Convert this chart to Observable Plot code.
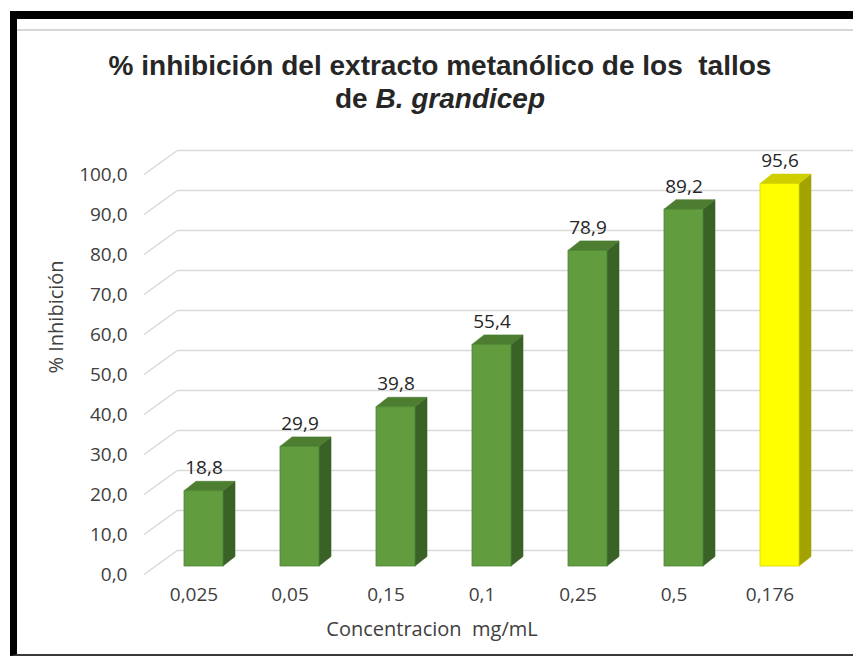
<!DOCTYPE html>
<html>
<head>
<meta charset="utf-8">
<script src="https://cdn.jsdelivr.net/npm/d3@7"></script>
<script src="https://cdn.jsdelivr.net/npm/@observablehq/plot@0.6"></script>
<style>
  html, body { margin: 0; padding: 0; background: #fff; overflow: hidden; }
  #page { position: relative; width: 853px; height: 658px; overflow: hidden; }
  #frame { position: absolute; left: 10px; top: 11px; width: 900px; height: 635px;
           border-top: 8px solid #000; border-left: 7px solid #000; border-bottom: 2px solid #3a3a3a; }
  #topline { position: absolute; left: 17px; top: 29px; width: 900px; height: 2px; background: #d6d6d6; }
  #title { position: absolute; left: 0; top: 49px; width: 880px; text-align: center;
           font-family: "Liberation Sans", Arial, sans-serif; font-weight: bold; font-size: 28px;
           line-height: 33px; color: #262626; white-space: pre; }
  #chart { position: absolute; left: 0; top: 120px; }
  svg text { white-space: pre; }
</style>
</head>
<body>
<div id="page">
  <div id="frame"></div>
  <div id="topline"></div>
  <div id="title">% inhibición del extracto metanólico de los  tallos<br>de <i>B. grandicep</i></div>
  <div id="chart"></div>
</div>
<script>
// ---- data ----
const categories = ["0,025", "0,05", "0,15", "0,1", "0,25", "0,5", "0,176"];
const values = [18.8, 29.9, 39.8, 55.4, 78.9, 89.2, 95.6];
const groups = ["muestra", "muestra", "muestra", "muestra", "muestra", "muestra", "referencia"];
const yTicks = [0, 10, 20, 30, 40, 50, 60, 70, 80, 90, 100];
const yTitle = "% Inhibición";
const xTitle = "Concentracion  mg/mL";

// ---- styles ----
const frontColors = {muestra: "#619c3f", referencia: "#ffff00"};
const sideColors = {muestra: "#3a6126", referencia: "#a3a300"};
const topColors = {muestra: "#4c7d31", referencia: "#cfcf00"};
const edgeColors = {muestra: "#4f8632", referencia: "#d6d600"};
const DX = 12, DY = -9.5;          // bar depth offset
const GX0 = 144, GX1 = 178;        // front / back of the gridline wall
const GFRONT = 8.5, GBACK = -16;   // vertical offsets of front and back gridlines
const fmt = v => v.toFixed(1).replace(".", ",");

const data = categories.map((c, i) => ({cat: c, value: values[i], group: groups[i]}));

const W = 853, H = 538;

function slants(index, scales) {
  const y = scales.y;
  const g = d3.create("svg:g").attr("stroke", "#d9d9d9").attr("stroke-width", 1.5).attr("fill", "none");
  for (const t of yTicks) {
    g.append("line")
      .attr("x1", GX0).attr("y1", y(t) + GFRONT)
      .attr("x2", GX1).attr("y2", y(t) + GBACK);
  }
  return g.node();
}

function faces(index, scales) {
  const x = scales.x, y = scales.y;
  const bw = x.bandwidth ? x.bandwidth() : 39;
  const g = d3.create("svg:g");
  for (const d of data) {
    const x0 = x(d.cat), x1 = x0 + bw, yt = y(d.value), yb = y(0);
    g.append("path")
      .attr("d", `M${x1},${yt}L${x1 + DX},${yt + DY}L${x1 + DX},${yb + DY}L${x1},${yb}Z`)
      .attr("fill", sideColors[d.group]).attr("stroke", sideColors[d.group]).attr("stroke-width", 0.6);
    g.append("path")
      .attr("d", `M${x0},${yt}L${x0 + DX},${yt + DY}L${x1 + DX},${yt + DY}L${x1},${yt}Z`)
      .attr("fill", topColors[d.group]).attr("stroke", topColors[d.group]).attr("stroke-width", 0.6);
  }
  return g.node();
}

const chart = Plot.plot({
  width: W,
  height: H,
  marginTop: 0, marginBottom: 0, marginLeft: 0, marginRight: 0,
  style: {fontFamily: "'Open Sans', sans-serif", fontSize: "19px", color: "#404040", background: "transparent", overflow: "visible"},
  x: {type: "band", domain: categories, range: [155.5, 827.5], paddingInner: 0.594, paddingOuter: 0.297, axis: null},
  y: {domain: [0, 100], range: [446, 46], axis: null},
  color: {domain: Object.keys(frontColors), range: Object.values(frontColors)},
  marks: [
    Plot.ruleY(yTicks, {y: d => d, dy: GBACK, insetLeft: GX1, stroke: "#d9d9d9", strokeWidth: 1.5}),
    slants,
    faces,
    Plot.barY(data, {x: "cat", y: "value", fill: "group", stroke: d => edgeColors[d.group], strokeWidth: 0.8}),
    Plot.text(data, {x: "cat", y: "value", text: d => fmt(d.value), dy: -23, fill: "#262626", fontSize: 19}),
    Plot.text(yTicks, {y: d => d, text: d => fmt(d), frameAnchor: "left", dx: 127, dy: GFRONT, textAnchor: "end", fill: "#404040", fontSize: 19}),
    Plot.text(categories, {x: d => d, text: d => d, frameAnchor: "bottom", dx: -10, dy: -58, fill: "#404040", fontSize: 19}),
    Plot.text([yTitle], {text: d => d, frameAnchor: "left", dx: 56, dy: -16, rotate: -90, fill: "#404040", fontSize: 20}),
    Plot.text([xTitle], {text: d => d, frameAnchor: "bottom", dx: 5, dy: -23, fill: "#404040", fontSize: 20})
  ]
});
document.getElementById("chart").appendChild(chart);
</script>
</body>
</html>
